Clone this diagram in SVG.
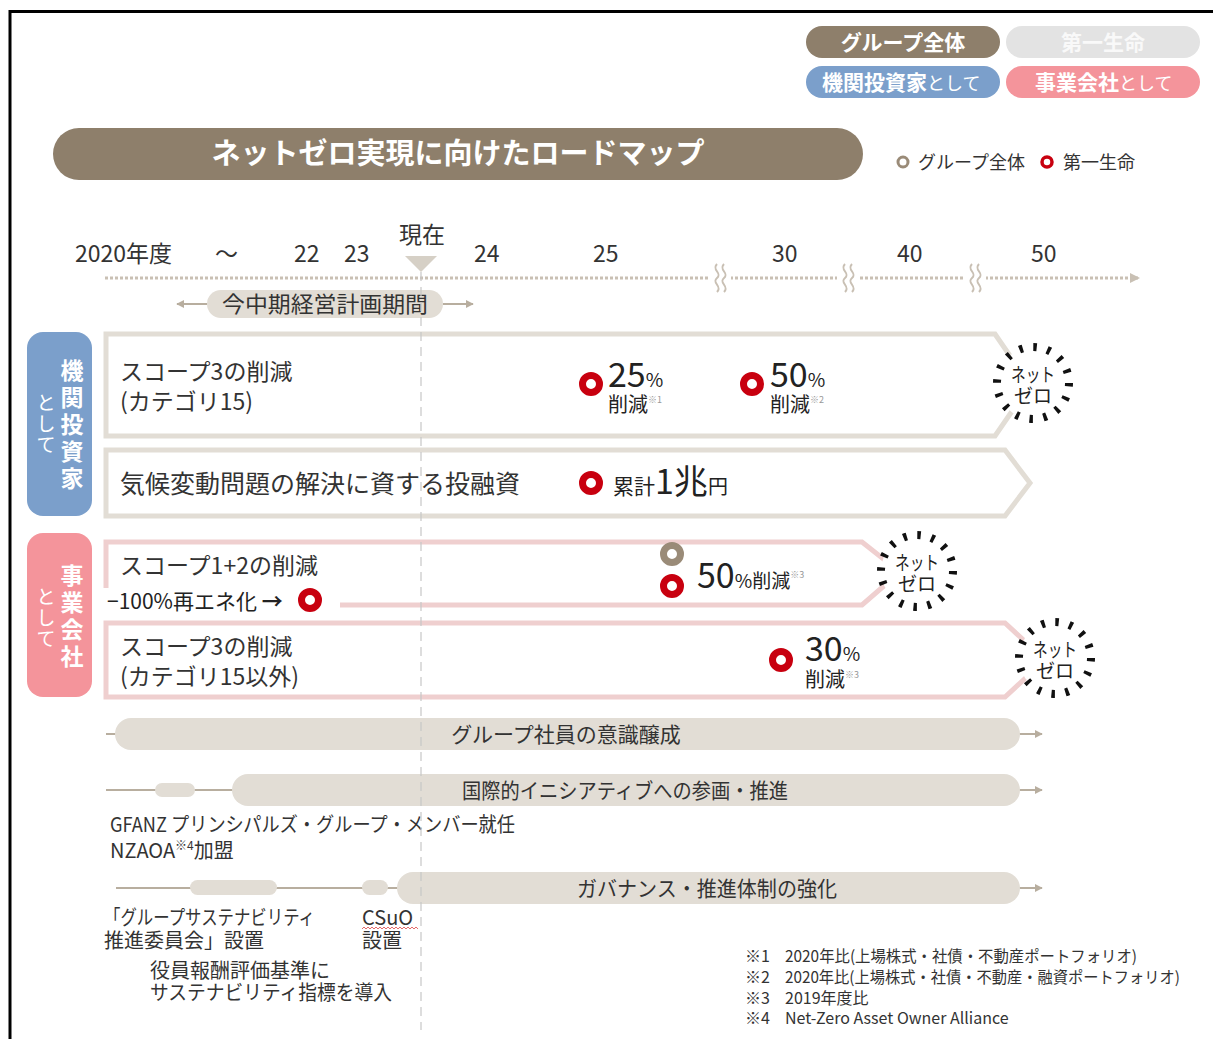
<svg xmlns="http://www.w3.org/2000/svg" width="1213" height="1039" viewBox="0 0 1213 1039">
<defs>
<style>
text{font-family:"Noto Sans CJK JP","Noto Sans",sans-serif;fill:#222}
.w{fill:#fff}
.b{font-weight:bold}
.pill-t{font-size:21px;font-weight:bold;text-anchor:middle}
.tl{font-size:23px;fill:#333}
.lbl{font-size:23px;fill:#333}
.bar{fill:#e2ddd5}
.bart{font-size:21px;fill:#333;text-anchor:middle}
.box{fill:#fff;stroke:#e2ddd5;stroke-width:5}
.pbox{fill:none;stroke:#efcfcf;stroke-width:5}
.red{fill:none;stroke:#c8000f;stroke-width:7}
.gry{fill:none;stroke:#9a8b78;stroke-width:7}
.sm{font-size:16px;fill:#333}
.note{font-size:9px;fill:#999}
.burst-d{fill:#fff;stroke:#111;stroke-width:8;stroke-dasharray:3.5 10.64}
.burst-t{font-size:19px;text-anchor:middle;fill:#222}
.ln{stroke:#b8ae9f;stroke-width:2;fill:none}
.t20{font-size:20px;fill:#333}
</style>
<marker id="ah" viewBox="0 0 10 10" refX="9" refY="5" markerWidth="8" markerHeight="8" markerUnits="userSpaceOnUse" orient="auto"><path d="M0,0 L10,5 L0,10 Z" fill="#b8ae9f"/></marker>
<marker id="ah2" viewBox="0 0 10 10" refX="9" refY="5" markerWidth="10" markerHeight="14" markerUnits="userSpaceOnUse" orient="auto"><path d="M0,0 L10,5 L0,10 Z" fill="#c9c0b4"/></marker>
</defs>
<rect width="1213" height="1039" fill="#fff"/>
<rect x="10" y="11.5" width="1215" height="1040" fill="none" stroke="#000" stroke-width="3"/>

<g id="legend-pills">
<rect x="806" y="26" width="194" height="32" rx="16" fill="#8e7f6b"/>
<text class="pill-t w" x="903" y="50">グループ全体</text>
<rect x="1006" y="26" width="194" height="32" rx="16" fill="#e3e3e3"/>
<text class="pill-t" x="1103" y="50" style="fill:#f9f9f9">第一生命</text>
<rect x="806" y="66" width="194" height="32" rx="16" fill="#7b9fcb"/>
<text class="w" x="822" y="90" style="font-size:21px"><tspan class="b w">機関投資家</tspan><tspan class="w" style="font-size:18px">として</tspan></text>
<rect x="1006" y="66" width="194" height="32" rx="16" fill="#f4949b"/>
<text class="w" x="1035" y="90" style="font-size:21px"><tspan class="b w">事業会社</tspan><tspan class="w" style="font-size:18px">として</tspan></text>
</g>

<g id="title">
<rect x="53" y="128" width="810" height="52" rx="26" fill="#8e7f6b"/>
<text class="w b" x="458" y="164" style="font-size:29px;text-anchor:middle">ネットゼロ実現に向けたロードマップ</text>
</g>

<g id="legend-marks">
<circle cx="903" cy="162" r="5" fill="none" stroke="#9a8b78" stroke-width="3"/>
<text x="918" y="169" style="font-size:18px;fill:#333">グループ全体</text>
<circle cx="1047" cy="162" r="5" fill="none" stroke="#c8000f" stroke-width="3.5"/>
<text x="1063" y="169" style="font-size:18px;fill:#333">第一生命</text>
</g>

<g id="timeline">
<text class="tl" x="75" y="262">2020年度</text>
<text class="tl" x="215" y="262">～</text>
<text class="tl" x="294" y="262">22</text>
<text class="tl" x="344" y="262">23</text>
<text class="tl" x="399" y="243">現在</text>
<text class="tl" x="474" y="262">24</text>
<text class="tl" x="593" y="262">25</text>
<text class="tl" x="772" y="262">30</text>
<text class="tl" x="897" y="262">40</text>
<text class="tl" x="1031" y="262">50</text>
<path d="M405,256 H437 L421,272 Z" fill="#d6d0c6"/>
</g>

<g id="connectors">
<line x1="105" y1="278" x2="1139" y2="278" stroke="#c9c0b4" stroke-width="3" stroke-dasharray="3 2" marker-end="url(#ah2)"/>
<g fill="none" stroke="#c9c0b4" stroke-width="2">
<rect x="709" y="268" width="22" height="20" fill="#fff" stroke="none"/>
<path d="M717,264 c-6,6 6,9 0,14 c-6,5 6,8 0,14"/>
<path d="M724,264 c-6,6 6,9 0,14 c-6,5 6,8 0,14"/>
<rect x="837" y="268" width="22" height="20" fill="#fff" stroke="none"/>
<path d="M845,264 c-6,6 6,9 0,14 c-6,5 6,8 0,14"/>
<path d="M852,264 c-6,6 6,9 0,14 c-6,5 6,8 0,14"/>
<rect x="964" y="268" width="22" height="20" fill="#fff" stroke="none"/>
<path d="M972,264 c-6,6 6,9 0,14 c-6,5 6,8 0,14"/>
<path d="M979,264 c-6,6 6,9 0,14 c-6,5 6,8 0,14"/>
</g>
<line x1="207" y1="304" x2="177" y2="304" class="ln" stroke-width="1.5" marker-end="url(#ah)"/>
<line x1="443" y1="304" x2="473" y2="304" class="ln" stroke-width="1.5" marker-end="url(#ah)"/>
<line x1="106" y1="734" x2="118" y2="734" class="ln"/>
<line x1="1018" y1="734" x2="1042" y2="734" class="ln" marker-end="url(#ah)"/>
<line x1="106" y1="790" x2="234" y2="790" class="ln"/>
<line x1="1018" y1="790" x2="1042" y2="790" class="ln" marker-end="url(#ah)"/>
<line x1="116" y1="888" x2="400" y2="888" class="ln"/>
<line x1="1018" y1="888" x2="1042" y2="888" class="ln" marker-end="url(#ah)"/>
</g>

<g id="period">
<rect x="207" y="290" width="236" height="28" rx="14" fill="#e2ddd5"/>
<text x="325" y="312" style="font-size:22px;fill:#333;text-anchor:middle" textLength="206" lengthAdjust="spacingAndGlyphs">今中期経営計画期間</text>
</g>

<g id="side-investor">
<rect x="27" y="332" width="65" height="184" rx="16" fill="#7b9fcb"/>
<g style="font-size:23px;text-anchor:middle">
<text class="w b" x="72" y="379">機</text>
<text class="w b" x="72" y="406">関</text>
<text class="w b" x="72" y="433">投</text>
<text class="w b" x="72" y="460">資</text>
<text class="w b" x="72" y="487">家</text>
</g>
<g style="font-size:19px;text-anchor:middle">
<text class="w" x="46" y="410">と</text>
<text class="w" x="46" y="431">し</text>
<text class="w" x="46" y="452">て</text>
</g>
</g>

<g id="side-company">
<rect x="27" y="533" width="65" height="164" rx="16" fill="#f4949b"/>
<g style="font-size:23px;text-anchor:middle">
<text class="w b" x="72" y="584">事</text>
<text class="w b" x="72" y="611">業</text>
<text class="w b" x="72" y="638">会</text>
<text class="w b" x="72" y="665">社</text>
</g>
<g style="font-size:19px;text-anchor:middle">
<text class="w" x="46" y="604">と</text>
<text class="w" x="46" y="625">し</text>
<text class="w" x="46" y="646">て</text>
</g>
</g>

<g id="row-scope3-inv">
<path class="box" d="M106,334 H995 L1030,385 L995,436 H106 Z"/>
<text class="lbl" x="120" y="380">スコープ3の削減</text>
<text class="lbl" x="120" y="410">(カテゴリ15)</text>
<circle class="red" cx="591" cy="384" r="8.5"/>
<text x="608" y="387"><tspan style="font-size:34px">25</tspan><tspan style="font-size:19px">%</tspan></text>
<text x="608" y="412" style="font-size:20px">削減<tspan class="note" dy="-9">※1</tspan></text>
<circle class="red" cx="752" cy="384" r="8.5"/>
<text x="770" y="387"><tspan style="font-size:34px">50</tspan><tspan style="font-size:19px">%</tspan></text>
<text x="770" y="412" style="font-size:20px">削減<tspan class="note" dy="-9">※2</tspan></text>
</g>

<g id="row-finance">
<path class="box" d="M106,450 H1005 L1030,483 L1005,516 H106 Z"/>
<text class="lbl" x="120" y="493" style="font-size:25px" textLength="400" lengthAdjust="spacingAndGlyphs">気候変動問題の解決に資する投融資</text>
<circle class="red" cx="591" cy="483" r="8.5"/>
<text x="613" y="494" style="font-size:21px">累計<tspan style="font-size:34px">1兆</tspan><tspan style="font-size:20px">円</tspan></text>
</g>

<g id="row-scope12">
<path class="pbox" d="M106,588 V542 H862 L900,572 L862,605 H340"/>
<text class="lbl" x="120" y="574">スコープ1+2の削減</text>
<text x="107" y="609" style="font-size:21px">−100%再エネ化 <tspan class="b">→</tspan></text>
<circle class="red" cx="310" cy="600" r="8.5"/>
<circle class="gry" cx="672" cy="554" r="8.5"/>
<circle class="red" cx="672" cy="586" r="8.5"/>
<text x="697" y="588"><tspan style="font-size:34px">50</tspan><tspan style="font-size:19px">%削減</tspan><tspan class="note" dy="-10">※3</tspan></text>
</g>

<g id="row-scope3-co">
<path class="pbox" d="M106,623 H1005 L1045,660 L1005,697 H106 Z"/>
<text class="lbl" x="120" y="655">スコープ3の削減</text>
<text class="lbl" x="120" y="685">(カテゴリ15以外)</text>
<circle class="red" cx="781" cy="660" r="8.5"/>
<text x="805" y="661"><tspan style="font-size:34px">30</tspan><tspan style="font-size:19px">%</tspan></text>
<text x="805" y="687" style="font-size:20px">削減<tspan class="note" dy="-9">※3</tspan></text>
</g>

<g id="netzero-1">
<circle class="burst-d" cx="1033" cy="383" r="36"/>
<text class="burst-t" x="1033" y="382" textLength="44" lengthAdjust="spacingAndGlyphs">ネット</text>
<text class="burst-t" x="1033" y="403">ゼロ</text>
</g>
<g id="netzero-2">
<circle class="burst-d" cx="917" cy="571" r="36"/>
<text class="burst-t" x="917" y="570" textLength="44" lengthAdjust="spacingAndGlyphs">ネット</text>
<text class="burst-t" x="917" y="591">ゼロ</text>
</g>
<g id="netzero-3">
<circle class="burst-d" cx="1055" cy="658" r="36"/>
<text class="burst-t" x="1055" y="657" textLength="44" lengthAdjust="spacingAndGlyphs">ネット</text>
<text class="burst-t" x="1055" y="678">ゼロ</text>
</g>

<g id="bar-awareness">
<rect class="bar" x="115" y="718" width="905" height="32" rx="16"/>
<text class="bart" x="566" y="742">グループ社員の意識醸成</text>
</g>

<g id="bar-initiative">
<rect class="bar" x="155" y="783" width="40" height="14" rx="7"/>
<rect class="bar" x="232" y="774" width="788" height="32" rx="16"/>
<text class="bart" x="625" y="798" textLength="326" lengthAdjust="spacingAndGlyphs">国際的イニシアティブへの参画・推進</text>
<text class="t20" x="110" y="832" textLength="405" lengthAdjust="spacingAndGlyphs">GFANZ プリンシパルズ・グループ・メンバー就任</text>
<text class="t20" x="110" y="858">NZAOA<tspan style="font-size:12px" dy="-8">※4</tspan><tspan dy="8">加盟</tspan></text>
</g>

<g id="bar-governance">
<rect class="bar" x="190" y="880" width="87" height="15" rx="7.5"/>
<rect class="bar" x="362" y="880" width="26" height="15" rx="7.5"/>
<rect class="bar" x="397" y="872" width="623" height="32" rx="16"/>
<text class="bart" x="707" y="896" textLength="260" lengthAdjust="spacingAndGlyphs">ガバナンス・推進体制の強化</text>
<text class="t20" x="104" y="925" textLength="211" lengthAdjust="spacingAndGlyphs">「グループサステナビリティ</text>
<text class="t20" x="104" y="948">推進委員会」設置</text>
<text class="t20" x="362" y="925">CSuO</text>
<path d="M362,929 l2,-2 l2,2 l2,-2 l2,2 l2,-2 l2,2 l2,-2 l2,2 l2,-2 l2,2 l2,-2 l2,2 l2,-2 l2,2 l2,-2 l2,2 l2,-2 l2,2 l2,-2 l2,2 l2,-2 l2,2 l2,-2 l2,2 l2,-2 l2,2 l2,-2 l2,2" fill="none" stroke="#d44" stroke-width="0.8"/>
<text class="t20" x="362" y="948">設置</text>
<text class="t20" x="150" y="978">役員報酬評価基準に</text>
<text class="t20" x="150" y="1000" textLength="242" lengthAdjust="spacingAndGlyphs">サステナビリティ指標を導入</text>
</g>

<g id="now-line">
<line x1="421" y1="272" x2="421" y2="1030" stroke="#c8c8c8" stroke-width="1.5" stroke-dasharray="9 6" opacity="0.8"/>
</g>

<g id="footnotes">
<text class="sm" x="745" y="962">※1</text>
<text class="sm" x="785" y="962" textLength="352" lengthAdjust="spacingAndGlyphs">2020年比(上場株式・社債・不動産ポートフォリオ)</text>
<text class="sm" x="745" y="983">※2</text>
<text class="sm" x="785" y="983" textLength="395" lengthAdjust="spacingAndGlyphs">2020年比(上場株式・社債・不動産・融資ポートフォリオ)</text>
<text class="sm" x="745" y="1004">※3</text>
<text class="sm" x="785" y="1004">2019年度比</text>
<text class="sm" x="745" y="1024">※4</text>
<text class="sm" x="785" y="1024">Net-Zero Asset Owner Alliance</text>
</g>
</svg>
